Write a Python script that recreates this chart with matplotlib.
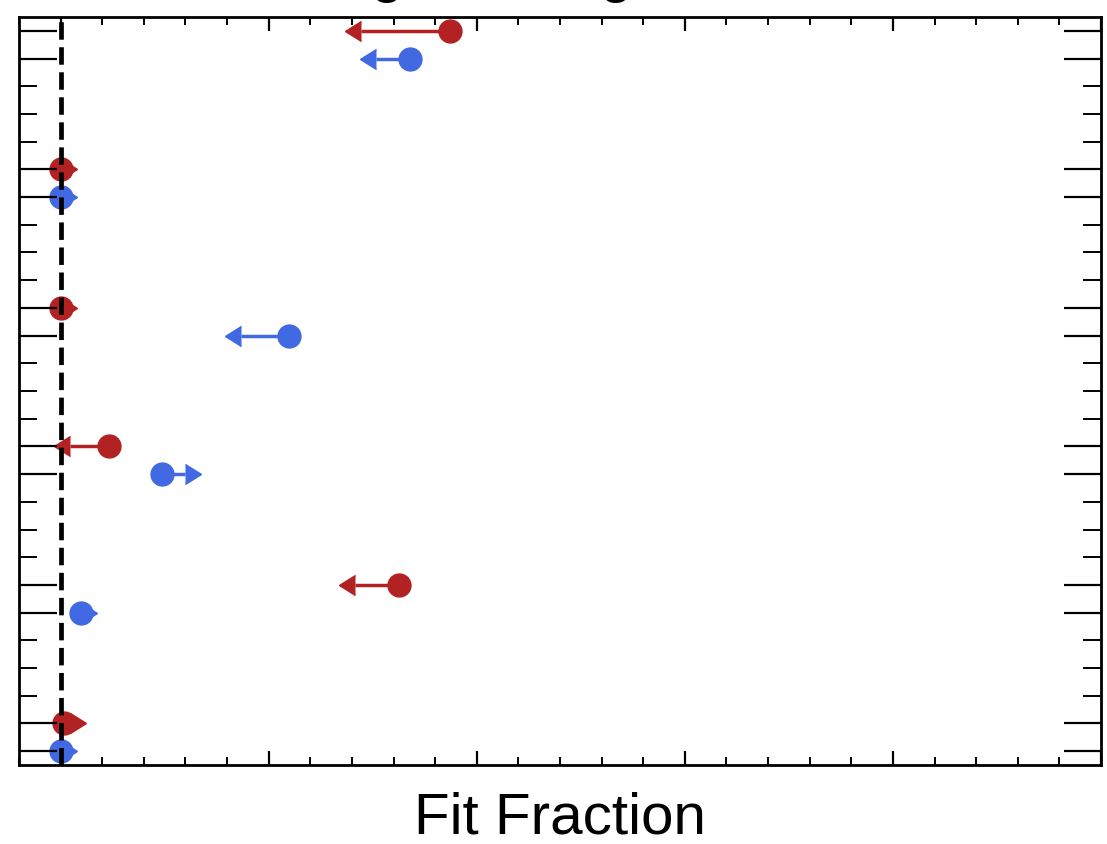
"""
Fit fraction limits for six amplitudes, two fit models (red / blue).
"""

import numpy as np
import matplotlib
matplotlib.use("Agg")
from matplotlib import pyplot as plt
from matplotlib.ticker import FixedLocator, MultipleLocator

plt.rcParams["font.family"] = ["Liberation Sans", "DejaVu Sans"]
plt.rcParams["mathtext.fontset"] = "custom"
plt.rcParams["mathtext.rm"] = "Liberation Sans"
plt.rcParams["mathtext.it"] = "Liberation Sans:italic"

# title is mostly cut off in the reference, only descenders are visible
title_text = "Fixing r$_0$ with g, Scanned"
x_label = "Fit Fraction"

# rows, bottom to top: blue at 5k, red at 5k + 1
group_index = [0, 1, 2, 3, 4, 5]
row_step = 5

# blue series
blue_value = [0.000, 0.0099, 0.0486, 0.1099, 0.000, 0.1679]
blue_err = [0.000, 0.000, 0.0112, 0.0232, 0.000, 0.0163]
blue_lower_limit = [True, True, True, False, True, False]

# red series
red_value = [0.0015, 0.1627, 0.0230, 0.000, 0.000, 0.1872]
red_err = [0.003, 0.0212, 0.0184, 0.000, 0.000, 0.0427]
red_lower_limit = [True, False, False, True, True, False]


def draw_series(ax, values, errs, lower, offset, color):
    """
    Draw the points with arrows: right for lower limits, left for upper limits.
    """

    y = np.array(group_index) * row_step + offset
    lower = np.array(lower)

    ax.errorbar(
        values, y, xerr=errs,
        xlolims=lower, xuplims=~lower,
        fmt="o", color=color, markersize=16.5,
        elinewidth=2.5, capsize=7.5, capthick=1, zorder=2,
    )


fig = plt.figure(figsize=(11.07, 8.44), dpi=100)
ax = fig.add_axes([0.0172, 0.0936, 0.9774, 0.8863])

draw_series(ax, blue_value, blue_err, blue_lower_limit, 0, "royalblue")
draw_series(ax, red_value, red_err, red_lower_limit, 1, "firebrick")

# zero line
ax.axvline(0, color="black", linestyle="--", linewidth=3.4, zorder=3)

top_row = max(group_index) * row_step + 1
ax.set_xlim(-0.02, 0.50)
ax.set_ylim(-0.5, top_row + 0.5)

# y ticks: long ones at the data rows, short ones in between
major_rows = [g * row_step + o for g in group_index for o in (0, 1)]
minor_rows = [r for r in range(top_row + 1) if r not in major_rows]
ax.yaxis.set_major_locator(FixedLocator(major_rows))
ax.yaxis.set_minor_locator(FixedLocator(minor_rows))
ax.xaxis.set_major_locator(MultipleLocator(0.1))
ax.xaxis.set_minor_locator(MultipleLocator(0.02))

ax.set_axisbelow(False)
ax.tick_params(axis="both", which="both", direction="in",
               left=True, right=True, top=True, bottom=True,
               labelleft=False, labelbottom=False, color="black")
ax.tick_params(axis="y", which="major", length=27, width=1.6)
ax.tick_params(axis="y", which="minor", length=13, width=1.4)
ax.tick_params(axis="x", which="major", length=10, width=1.6)
ax.tick_params(axis="x", which="minor", length=5.5, width=1.4)

for spine in ax.spines.values():
    spine.set_linewidth(2)

ax.set_xlabel(x_label, fontsize=42, labelpad=19)
fig.text(0.515, 1.0 + 9.0 / 844, title_text, fontsize=42,
         ha="center", va="baseline")

fig.savefig("out.png", dpi=100)
